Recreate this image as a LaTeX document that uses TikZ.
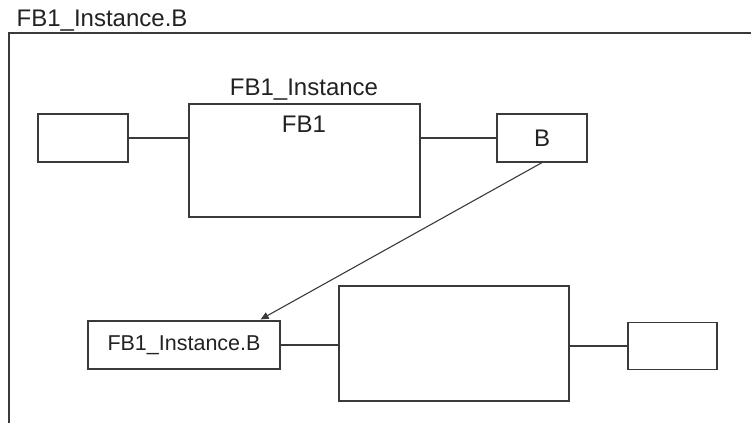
\documentclass[tikz,border=0pt]{standalone}
\usepackage{fontspec}
\setmainfont{Liberation Sans}
\usetikzlibrary{arrows.meta}
\definecolor{ln}{HTML}{3A3A3A}
\definecolor{tx}{HTML}{222222}
\tikzset{
  blk/.style={draw=ln, line width=1.2pt, rectangle, inner sep=0pt, text=tx,
    font=\fontsize{21.5}{24}\selectfont},
  lbl/.style={inner sep=0pt, text=tx, font=\fontsize{24}{28}\selectfont},
  wire/.style={draw=ln, line width=1.1pt},
}
\begin{document}
\begin{tikzpicture}[x=1pt,y=-1pt]
\useasboundingbox (0,0) rectangle (751,423);
% frame
\draw[wire, line width=1.3pt] (9,423) -- (9,33) -- (751,33);
\node[lbl, anchor=base west] (title) at (16.5,26.7) {FB1\_Instance.B};
% top row
\node[blk, minimum width=90pt, minimum height=48pt] (inL) at (83,138) {};
\node[blk, minimum width=231pt, minimum height=113pt] (fb1) at (304.5,160.5) {};
\node[lbl, anchor=base] (inst) at (304,95) {FB1\_Instance};
\node[lbl, anchor=base] (fbname) at (304,132.7) {FB1};
\node[blk, minimum width=90pt, minimum height=48pt, font=\fontsize{24}{28}\selectfont] (bb) at (542,138) {B};
\draw[wire] (inL.east) -- (inL.east -| fb1.west);
\draw[wire] (bb.west -| fb1.east) -- (bb.west);
% bottom row
\node[blk, minimum width=192pt, minimum height=48pt] (fbib) at (184,345) {FB1\_Instance.B};
\node[blk, minimum width=230pt, minimum height=115pt] (big) at (454,343.5) {};
\node[blk, minimum width=89pt, minimum height=47pt] (outR) at (672.5,346) {};
\draw[wire] (fbib.east) -- (fbib.east -| big.west);
\draw[wire] (outR.west -| big.east) -- (outR.west);
% arrow
\coordinate (tip) at ([xshift=-20pt,yshift=1pt]fbib.north east);
\draw[wire, line width=1.1pt, -{Triangle[length=8pt,width=7pt]}] (bb.south) -- (tip);
\end{tikzpicture}
\end{document}
